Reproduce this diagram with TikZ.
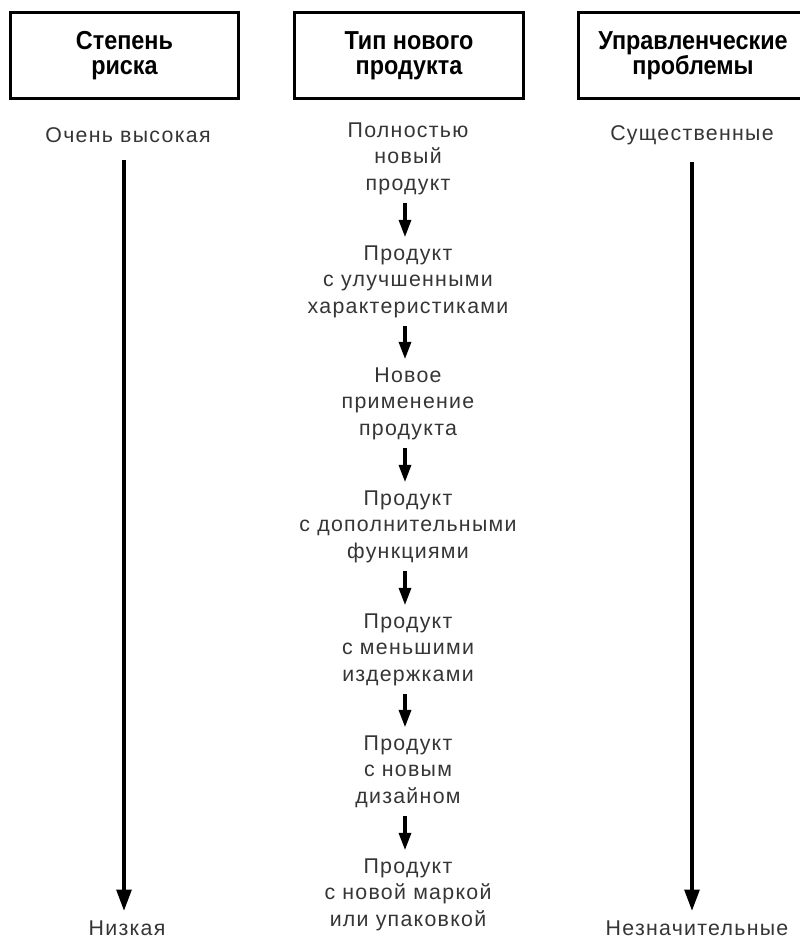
\documentclass[tikz,border=0pt]{standalone}
\usepackage{fontspec}
\setmainfont{Liberation Sans}
\newfontfamily\bodyfont[LetterSpace=6]{Liberation Sans}
\newfontfamily\headfont[FakeStretch=0.9]{Liberation Sans}
\usetikzlibrary{arrows.meta}
\definecolor{bodygray}{HTML}{353535}
\begin{document}
\begin{tikzpicture}[x=0.75pt,y=-0.75pt,
  headbox/.style={draw=black,line width=2.4pt,minimum width=171.5pt,minimum height=64pt,
    align=center,inner sep=0pt,font=\headfont\bfseries\fontsize{19.5pt}{19pt}\selectfont,text=black},
  bodytext/.style={align=center,inner sep=0pt,text=bodygray,
    font=\bodyfont\fontsize{16pt}{19.9pt}\selectfont},
  longarrow/.style={line width=2.8pt,-{Triangle[length=16pt,width=11pt]}},
  shortarrow/.style={line width=2.5pt,-{Triangle[length=13pt,width=9pt]},shorten <=6pt,shorten >=6pt}]
\useasboundingbox (0,0) rectangle (800,940);
% headers
\node[headbox] (h1) at (124.5,55.5) {Степень\\риска};
\node[headbox] (h2) at (409,55.5) {Тип нового\\продукта};
\node[headbox] (h3) at (693,55.5) {Управленческие\\проблемы};
% left column
\node[bodytext] (vhigh) at (128,135) {Очень высокая};
\node[bodytext] (low) at (127,928) {Низкая};
\draw[longarrow,shorten <=13pt,shorten >=7pt] (vhigh.south -| 124,0) -- (low.north -| 124,0);
% right column
\node[bodytext] (big) at (692,135) {Существенные};
\node[bodytext] (small) at (697,928) {Незначительные};
\draw[longarrow,shorten <=13pt,shorten >=7pt] (big.south -| 692,0) -- (small.north -| 692,0);
% middle column
\node[bodytext] (b1) at (408,158.5) {Полностью\\новый\\продукт};
\node[bodytext] (b2) at (408,281.5) {Продукт\\с улучшенными\\характеристиками};
\node[bodytext] (b3) at (408,403.5) {Новое\\применение\\продукта};
\node[bodytext] (b4) at (408,526.5) {Продукт\\с дополнительными\\функциями};
\node[bodytext] (b5) at (408,649.5) {Продукт\\с меньшими\\издержками};
\node[bodytext] (b6) at (408,771.5) {Продукт\\с новым\\дизайном};
\node[bodytext] (b7) at (408,894.5) {Продукт\\с новой маркой\\или упаковкой};
\foreach \a/\b in {b1/b2,b2/b3,b3/b4,b4/b5,b5/b6,b6/b7}
  \draw[shortarrow] (\a.south -| 405,0) -- (\b.north -| 405,0);
\end{tikzpicture}
\end{document}
